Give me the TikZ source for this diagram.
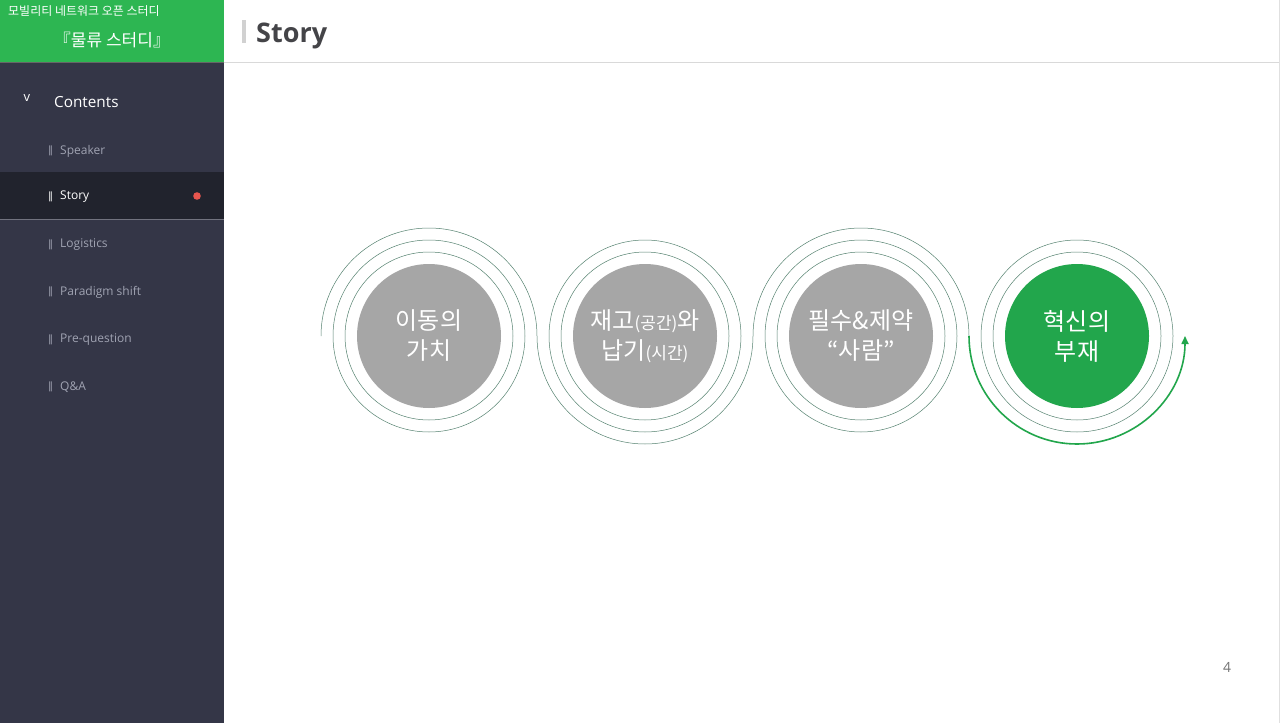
\documentclass[tikz,border=0pt]{standalone}
\usepackage{fontspec}
\setmainfont{Open Sans}
\newfontfamily\kr{Noto Sans CJK KR}
\newfontfamily\barfont{DejaVu Sans}
\usetikzlibrary{arrows.meta}

\definecolor{sidebar}{RGB}{52,54,71}
\definecolor{sidesel}{RGB}{33,35,45}
\definecolor{headgreen}{RGB}{45,182,82}
\definecolor{discgray}{RGB}{166,166,166}
\definecolor{discgreen}{RGB}{34,166,76}
\definecolor{ringline}{RGB}{85,130,112}
\definecolor{itemgray}{RGB}{160,163,178}
\definecolor{dotred}{RGB}{232,85,78}
\definecolor{titlegray}{RGB}{68,68,72}

\newcommand{\smallpart}[1]{{\fontsize{17}{20}\selectfont #1}}

\begin{document}
\begin{tikzpicture}[x=1pt,y=1pt,
    disc/.style={circle, fill=discgray, minimum size=144pt, inner sep=0pt, text=white,
        align=center, font=\kr\fontsize{24}{30}\selectfont},
    ring/.style={draw=ringline, line width=0.5pt},
    item/.style={anchor=west, text=itemgray, inner sep=0pt, font=\fontsize{12}{14}\selectfont},
    bar/.style={anchor=center, text=itemgray, inner sep=0pt, font=\barfont\fontsize{10}{10}\selectfont}]

    \useasboundingbox (0,0) rectangle (1280,-723);
    \fill[white] (0,0) rectangle (1280,-723);

    % Sidebar
    \fill[sidebar] (0,0) rectangle (224,-723);
    \fill[headgreen] (0,0) rectangle (224,-62);
    \fill[sidesel] (0,-172) rectangle (224,-219);
    \draw[black!60, line width=1pt] (0,-62.5) -- (224,-62.5);
    \draw[sidebar!70!white, line width=0.6pt] (0,-219.5) -- (224,-219.5);

    \node[anchor=west, text=white, inner sep=0pt, font=\kr\fontsize{12}{14}\selectfont] (club) at (8,-11) {모빌리티 네트워크 오픈 스터디};
    \node[text=white, inner sep=0pt, font=\kr\fontsize{17}{20}\selectfont] (study) at (112,-40) {『물류 스터디』};

    \node[text=white, inner sep=0pt, font=\fontsize{13}{14}\selectfont] (fold) at (27,-98) {v};
    \node[anchor=west, text=white, inner sep=0pt, font=\fontsize{15.3}{18}\selectfont] (contents) at (54,-102) {Contents};

    % Menu items
    \foreach \y/\name/\txt in {150/speaker/Speaker, 244/logistics/Logistics,
        291/paradigm/Paradigm shift, 339/prequestion/Pre-question, 386/qa/Q\&A} {
        \node[bar] (\name-bar) at (50.5,-\y-1) {‖};
        \node[item] (\name) at (60,-\y-1) {\txt};
    }
    \node[bar, text=white] (story-bar) at (50.5,-197) {‖};
    \node[item, text=white] (story) at (60,-197) {Story};
    \fill[dotred] (197,-196) circle (3.8pt);

    % Title bar
    \draw[black!15, line width=1.2pt] (224,-62.5) -- (1280,-62.5);
    \draw[black!12, line width=0.8pt] (1279.5,0) -- (1279.5,-723);
    \fill[black!18] (242,-20) rectangle (246,-43);
    \node[anchor=west, text=titlegray, inner sep=0pt, font=\bfseries\fontsize{27}{30}\selectfont] (title) at (256,-36) {Story};

    % Circles
    \node[disc] (c1) at (429,-336) {이동의\\가치};
    \node[disc] (c2) at (645,-336) {재고\smallpart{(공간)}와\\납기\smallpart{(시간)}};
    \node[disc] (c3) at (861,-336) {필수\&제약\\“사람”};
    \node[disc, fill=discgreen] (c4) at (1077,-336) {혁신의\\부재};

    \foreach \c in {c1,c2,c3,c4} {
        \draw[ring] (\c.center) circle[radius=84pt];
        \draw[ring] (\c.center) circle[radius=96pt];
    }

    % Winding path
    \draw[ring] ([xshift=-108pt]c1.center) arc[start angle=180, end angle=0, radius=108pt]
        arc[start angle=180, end angle=360, radius=108pt]
        arc[start angle=180, end angle=0, radius=108pt];
    \draw[discgreen, line width=1.6pt, -{Triangle[length=8pt,width=7pt]}] ([xshift=-108pt]c4.center)
        arc[start angle=180, end angle=360, radius=108pt];

    % Page number
    \node[text=black!55, font=\fontsize{14}{16}\selectfont] (page) at (1227,-667) {4};
\end{tikzpicture}
\end{document}
